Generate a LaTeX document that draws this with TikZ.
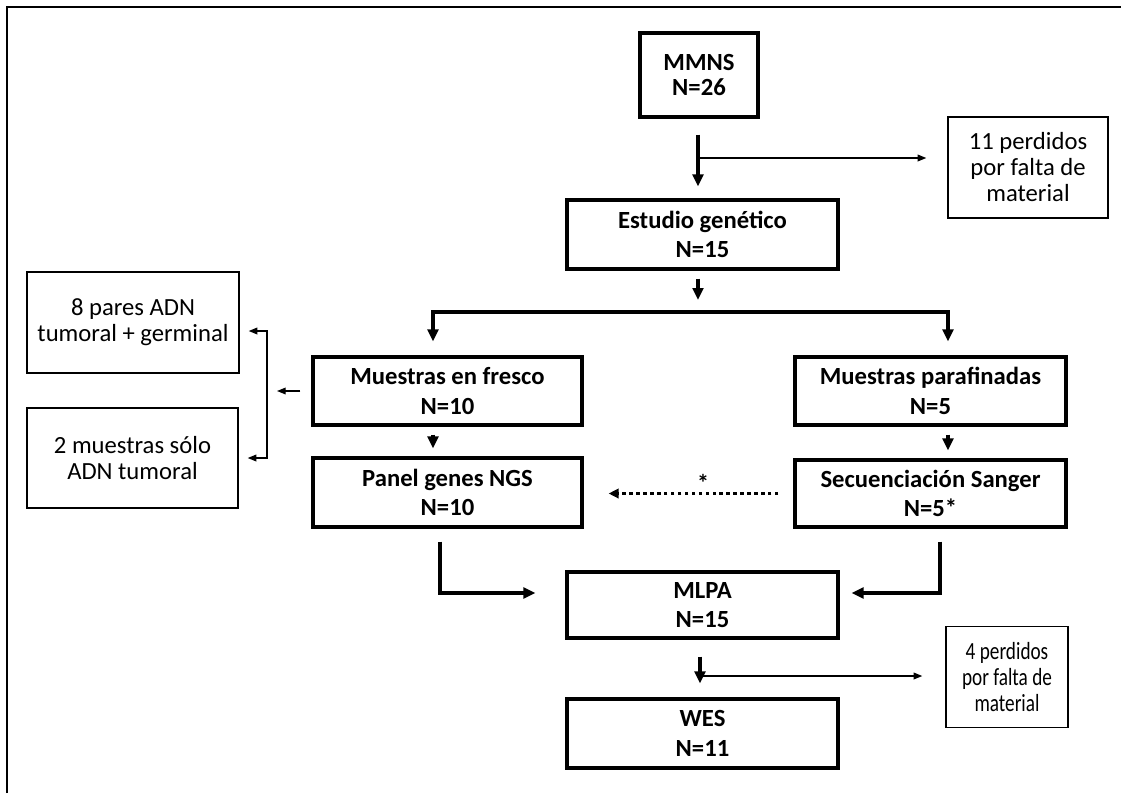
\documentclass[tikz,border=0pt]{standalone}
\usepackage{fontspec}
\usepackage{graphicx}
\setmainfont{Carlito}
\usetikzlibrary{arrows.meta}
\newcommand{\condline}[1]{\scalebox{0.78}[1]{#1}}

\begin{document}
\begin{tikzpicture}[x=0.75pt,y=0.75pt,yscale=-1,xscale=1,
  mainbox/.style={draw, line width=2.4pt, align=center, inner sep=0pt, font=\bfseries\fontsize{18.5}{22}\selectfont},
  notebox/.style={draw, line width=1pt, align=center, inner sep=0pt, font=\fontsize{18.5}{19.5}\selectfont},
  boldline/.style={line width=2.4pt},
  fineline/.style={line width=1pt},
  dotline/.style={line width=2.4pt, dash pattern=on 2.6pt off 2.6pt},
  boldtip/.tip={Triangle[length=9pt,width=8pt]},
  finetip/.tip={Triangle[length=6.5pt,width=5pt]},
]
\useasboundingbox (0,0) rectangle (1121,793);
%Shape: Frame
\draw [line width=1.6pt] (7,793) -- (7,7) -- (1121,7) ;
% Text Node
\node [mainbox, minimum width=88.5pt, minimum height=63pt, font=\bfseries\fontsize{18.5}{19}\selectfont] (mmns) at (699,75) {MMNS\\N=26};
% Text Node
\node [notebox, minimum width=120pt, minimum height=75.75pt] (lost1) at (1028,167.5) {11 perdidos\\por falta de\\material};
% Text Node
\node [mainbox, minimum width=203.25pt, minimum height=51.75pt] (estudio) at (702.5,234.5) {Estudio genético\\N=15};
% Text Node
\node [mainbox, minimum width=201.75pt, minimum height=51pt] (fresco) at (447.5,391) {Muestras en fresco\\N=10};
% Text Node
\node [mainbox, minimum width=203.25pt, minimum height=51pt] (parafin) at (930.5,391) {Muestras parafinadas\\N=5};
% Text Node
\node [notebox, minimum width=159pt, minimum height=75.75pt] (pares) at (133,322.5) {8 pares ADN\\tumoral + germinal};
% Text Node
\node [notebox, minimum width=158.25pt, minimum height=75pt] (solo) at (132.5,458) {2 muestras sólo\\ADN tumoral};
% Text Node
\node [mainbox, minimum width=201.75pt, minimum height=51.75pt] (panel) at (447.5,492.5) {Panel genes NGS\\N=10};
% Text Node
\node [mainbox, minimum width=203.25pt, minimum height=50.25pt] (sanger) at (930.5,493.5) {Secuenciación Sanger\\N=5*};
% Text Node
\node [mainbox, minimum width=203.25pt, minimum height=49.5pt] (mlpa) at (702.5,605) {MLPA\\N=15};
% Text Node
\node [mainbox, minimum width=203.25pt, minimum height=51.75pt] (wes) at (702.5,733.5) {WES\\N=11};
% Text Node
\node [notebox, minimum width=91.5pt, minimum height=75.75pt] (lost2) at (1007,677) {\condline{4 perdidos}\\\condline{por falta de}\\\condline{material}};
%Straight Lines: MMNS
\coordinate (j1) at (698,158);
\draw [boldline, -boldtip, shorten <=12pt, shorten >=9pt] (j1 |- mmns.south) -- (j1 |- estudio.north) ;
\draw [fineline, -finetip, shorten >=15.75pt] (j1) -- (j1 -| lost1.west) ;
%Straight Lines: split
\coordinate (split) at (698,312);
\coordinate (bl) at (433,312);
\coordinate (br) at (948,312);
\draw [boldline, -boldtip, shorten <=6pt, shorten >=9pt] (split |- estudio.south) -- (split) ;
\draw [boldline, -boldtip, shorten >=10.5pt] (split) -- (bl) -- (bl |- fresco.north) ;
\draw [boldline, -boldtip, shorten >=10.5pt] (split) -- (br) -- (br |- parafin.north) ;
%Straight Lines: bracket
\coordinate (brk) at (267,393);
\coordinate (bt) at (267,331);
\coordinate (bb) at (267,458);
\draw [fineline, -finetip, shorten <=8.25pt, shorten >=7.5pt] (fresco.west) -- (fresco.west -| brk) ;
\draw [fineline, finetip-finetip, shorten <=6.75pt, shorten >=6.75pt] (bt -| pares.east) -- (bt) -- (bb) -- (bb -| solo.east) ;
%Straight Lines: down
\draw [boldline, -boldtip, shorten <=6pt, shorten >=6pt] (bl |- fresco.south) -- (bl |- panel.north) ;
\draw [boldline, -boldtip, shorten <=6pt, shorten >=6pt] (br |- parafin.south) -- (br |- sanger.north) ;
%Straight Lines: dotted
\draw [dotline, -{Triangle[length=7.5pt,width=7pt]}, shorten <=11.25pt, shorten >=18.75pt] (sanger.west) -- (sanger.west -| panel.east) node [pos=0.43, above, inner sep=0pt, font=\bfseries\fontsize{18}{18}\selectfont] (star) {*} ;
%Straight Lines: MLPA
\coordinate (pm) at (440,593);
\coordinate (sm) at (940,593);
\draw [boldline, -boldtip, shorten <=9.75pt, shorten >=22.5pt] (pm |- panel.south) -- (pm) -- (pm -| mlpa.west) ;
\draw [boldline, -boldtip, shorten <=9.75pt, shorten >=9pt] (sm |- sanger.south) -- (sm) -- (sm -| mlpa.east) ;
%Straight Lines: WES
\coordinate (j2) at (700,676);
\draw [boldline, -boldtip, shorten <=12.75pt, shorten >=10.5pt] (j2 |- mlpa.south) -- (j2 |- wes.north) ;
\draw [fineline, -finetip, shorten >=17.25pt] (j2) -- (j2 -| lost2.west) ;
\end{tikzpicture}
\end{document}
